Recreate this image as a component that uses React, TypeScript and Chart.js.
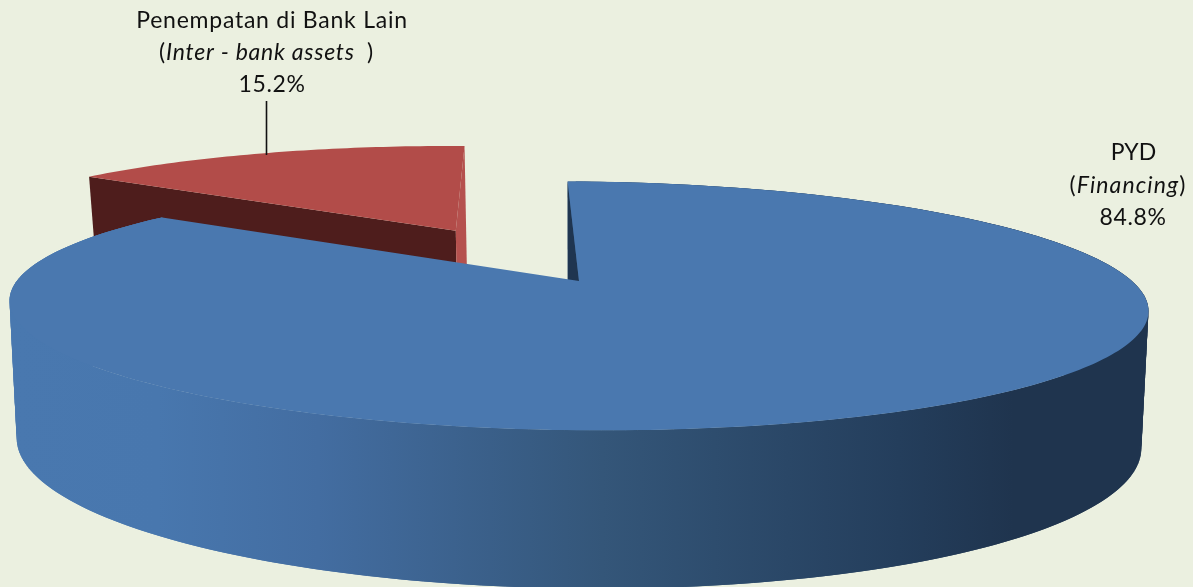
import React, { useEffect, useRef } from "react";
import { Chart, registerables } from "chart.js";

Chart.register(...registerables);

// Portfolio shares, in percent
const sliceNames = ["PYD", "Penempatan di Bank Lain"];
const sliceEnglish = ["Financing", "Inter - bank assets"];
const sliceValues = [84.8, 15.2];
const sliceColors = ["#4A78AF", "#B24C49"];
const sliceOffsets = [0, 102];

const BACKGROUND = "#EBF0E0";
const FONT = "Lato";
const FONT_SIZE = 23;

type Plane = { x0: number; y0: number; a: number; b: number; p: number; s: number };

// Perspective planes for the upper and lower faces of the pie disc
const TOP: Plane = { x0: 579, y0: 281, a: 558, b: 119.4, p: 0.2, s: 5 };
const BOTTOM: Plane = { x0: 579, y0: 414, a: 551, b: 139.6, p: 0.2, s: 5 };
// The pulled-out wedge sits a little narrower and its wall reads slightly taller
const EXPLODED_TOP: Plane = { ...TOP, a: 547 };
const EXPLODED_BOTTOM: Plane = { ...BOTTOM, a: 536, y0: 424 };

function project(pl: Plane, u: number, v: number): [number, number] {
  const d = 1 - pl.p * v;
  return [pl.x0 + (pl.a * u) / d, pl.y0 + (pl.b * v + pl.s * u) / d];
}

function polygon(ctx: CanvasRenderingContext2D, pts: [number, number][], fill: string | CanvasGradient) {
  ctx.beginPath();
  pts.forEach(([x, y], i) => (i ? ctx.lineTo(x, y) : ctx.moveTo(x, y)));
  ctx.closePath();
  ctx.fillStyle = fill;
  ctx.fill();
}

function arcSamples(start: number, end: number, cu: number, cv: number): [number, number][] {
  const out: [number, number][] = [];
  const n = Math.ceil(((end - start) * 180) / Math.PI);
  for (let i = 0; i <= n; i++) {
    const t = start + ((end - start) * i) / n;
    out.push([cu + Math.cos(t), cv + Math.sin(t)]);
  }
  return out;
}

function drawRuns(
  ctx: CanvasRenderingContext2D,
  runs: { text: string; italic: boolean }[],
  cx: number,
  y: number,
  spacing: string
) {
  const setFont = (italic: boolean) => {
    ctx.font = `${italic ? "italic " : ""}${FONT_SIZE}px ${FONT}`;
    (ctx as any).letterSpacing = spacing;
  };
  let total = 0;
  runs.forEach((r) => {
    setFont(r.italic);
    total += ctx.measureText(r.text).width;
  });
  let x = cx - total / 2;
  ctx.textAlign = "left";
  ctx.textBaseline = "alphabetic";
  ctx.fillStyle = "#111111";
  runs.forEach((r) => {
    setFont(r.italic);
    ctx.fillText(r.text, x, y);
    x += ctx.measureText(r.text).width;
  });
  (ctx as any).letterSpacing = "0px";
}

// Draws the doughnut controller's arc elements as a tilted, extruded disc
const extrudedPie = {
  id: "extrudedPie",
  beforeDraw(chart: any) {
    const { ctx, width, height } = chart;
    ctx.save();
    ctx.fillStyle = BACKGROUND;
    ctx.fillRect(0, 0, width, height);
    ctx.restore();
  },
  beforeDatasetsDraw(chart: any) {
    const ctx: CanvasRenderingContext2D = chart.ctx;
    const arcs = chart.getDatasetMeta(0).data;
    ctx.save();

    // Pulled-out wedge goes first, the main slice overlaps it
    const red = arcs[1];
    {
      const mid = (red.startAngle + red.endAngle) / 2;
      const d = red.options.offset / red.outerRadius;
      const cu = Math.cos(mid) * d;
      const cv = Math.sin(mid) * d;
      const rim = arcSamples(red.startAngle, red.endAngle, cu, cv);
      const first = rim[0];
      const last = rim[rim.length - 1];
      polygon(
        ctx,
        [
          project(EXPLODED_TOP, cu, cv),
          project(EXPLODED_TOP, first[0], first[1]),
          project(EXPLODED_BOTTOM, first[0], first[1]),
          project(EXPLODED_BOTTOM, cu, cv),
        ],
        "#4E1D1C"
      );
      polygon(
        ctx,
        [
          project(EXPLODED_TOP, cu, cv),
          project(EXPLODED_TOP, last[0], last[1]),
          project(EXPLODED_BOTTOM, last[0], last[1]),
          project(EXPLODED_BOTTOM, cu, cv),
        ],
        "#B5514E"
      );
      polygon(
        ctx,
        [project(EXPLODED_TOP, cu, cv), ...rim.map(([u, v]) => project(EXPLODED_TOP, u, v))],
        red.options.backgroundColor
      );
    }

    const blue = arcs[0];
    {
      const rim = arcSamples(blue.startAngle, blue.endAngle, 0, 0);
      const wall = ctx.createLinearGradient(10, 0, 1150, 0);
      wall.addColorStop(0, "#4978AF");
      wall.addColorStop(0.13, "#4877AE");
      wall.addColorStop(0.27, "#436DA1");
      wall.addColorStop(0.52, "#345679");
      wall.addColorStop(0.78, "#243E5C");
      wall.addColorStop(0.88, "#1F344E");
      wall.addColorStop(1, "#1F344E");
      // One overlapping strip per rim step, so the silhouette stays convex at the sides
      for (let i = 0; i < rim.length - 1; i++) {
        const a = rim[i];
        const b = rim[Math.min(i + 2, rim.length - 1)];
        polygon(
          ctx,
          [project(TOP, a[0], a[1]), project(TOP, b[0], b[1]), project(BOTTOM, b[0], b[1]), project(BOTTOM, a[0], a[1])],
          wall
        );
      }
      const first = rim[0];
      polygon(
        ctx,
        [
          project(TOP, 0, 0),
          project(TOP, first[0], first[1]),
          project(BOTTOM, first[0], first[1]),
          project(BOTTOM, 0, 0),
        ],
        "#1F3550"
      );
      polygon(
        ctx,
        [project(TOP, 0, 0), ...rim.map(([u, v]) => project(TOP, u, v))],
        blue.options.backgroundColor
      );
    }

    // Leader line for the wedge's label
    ctx.strokeStyle = "#111111";
    ctx.lineWidth = 1.6;
    ctx.beginPath();
    ctx.moveTo(266.5, 101);
    ctx.lineTo(266.5, 155);
    ctx.stroke();

    // Data labels
    const pct = (v: number) => `${v.toFixed(1)}%`;
    drawRuns(ctx, [{ text: sliceNames[1], italic: false }], 272, 28, "0.75px");
    drawRuns(
      ctx,
      [
        { text: "(", italic: false },
        { text: sliceEnglish[1] + "  ", italic: true },
        { text: ")", italic: false },
      ],
      266.5,
      60,
      "0.75px"
    );
    drawRuns(ctx, [{ text: pct(sliceValues[1]), italic: false }], 272, 92, "0.6px");
    drawRuns(ctx, [{ text: sliceNames[0], italic: false }], 1133.5, 160, "0px");
    drawRuns(
      ctx,
      [
        { text: "(", italic: false },
        { text: sliceEnglish[0], italic: true },
        { text: ")", italic: false },
      ],
      1128,
      193,
      "1.1px"
    );
    drawRuns(ctx, [{ text: pct(sliceValues[0]), italic: false }], 1133, 225, "0.6px");

    ctx.restore();
    return false;
  },
};

export default function App() {
  const canvasRef = useRef<HTMLCanvasElement | null>(null);

  useEffect(() => {
    document.body.style.margin = "0";
    document.body.style.background = BACKGROUND;
    const chart = new Chart(canvasRef.current as HTMLCanvasElement, {
      type: "pie",
      data: {
        labels: sliceNames,
        datasets: [
          {
            data: sliceValues,
            backgroundColor: sliceColors,
            offset: sliceOffsets,
            borderWidth: 0,
          },
        ],
      },
      options: {
        responsive: false,
        animation: false,
        rotation: -1.4,
        radius: 200,
        layout: { padding: 0 },
        plugins: { legend: { display: false }, tooltip: { enabled: false } },
      },
      plugins: [extrudedPie],
    } as any);
    return () => chart.destroy();
  }, []);

  return (
    <div style={{ position: "fixed", left: 0, top: 0, width: 1193, height: 587 }}>
      <canvas ref={canvasRef} width={1193} height={587} style={{ display: "block" }} />
    </div>
  );
}
